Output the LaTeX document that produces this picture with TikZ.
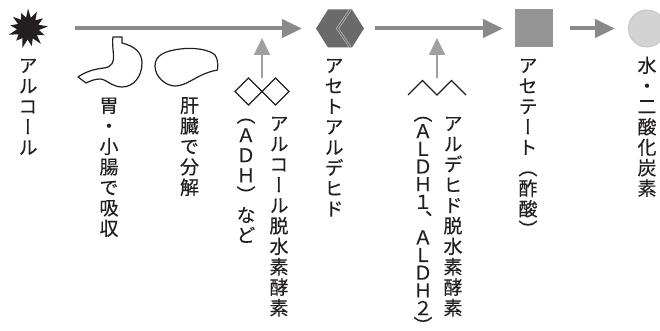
\documentclass[tikz,border=0pt]{standalone}
\usepackage{fontspec}
\newfontfamily\jp[RawFeature=+vert, FakeBold=0.3]{Noto Sans CJK JP}
\usetikzlibrary{arrows.meta}

\definecolor{flowgray}{HTML}{8A8A8A}
\definecolor{enzgray}{HTML}{A0A0A0}
\definecolor{hexgray}{HTML}{6A6A6A}
\definecolor{hexline}{HTML}{C8C8C8}
\definecolor{sqgray}{HTML}{959595}
\definecolor{circfill}{HTML}{D3D3D3}
\definecolor{circline}{HTML}{BFBFBF}
\definecolor{inkblack}{HTML}{231F20}

% vertical (tategaki) stack: one character per cell of the given pitch
\newdimen\tatepitch
\newcommand\tate[2]{\tatepitch=#1pt\relax\vbox{\offinterlineskip\tatego#2\relax}}
\def\tatego#1{\ifx\relax#1\else\tatecell{#1}\expandafter\tatego\fi}
\def\tatecell#1{\hbox to 1em{\hss\vbox to\tatepitch{\vss\hbox{\vrule height .88em depth .12em width 0pt #1}\vss}\hss}}

\begin{document}
\begin{tikzpicture}[x=1pt,y=-1pt,
  flow/.style={draw=flowgray, line width=4pt, -{Triangle[length=20pt,width=18pt]}},
  enzarrow/.style={draw=enzgray, line width=1.8pt, -{Triangle[length=17pt,width=16pt]}},
  outline/.style={draw=inkblack, line width=1.2pt, line join=round},
  anchorbox/.style={inner sep=0pt, outer sep=0pt},
  hexmark/.style={draw=hexline, line width=0.6pt, double=hexgray, double distance=1.2pt, line join=miter},
  tatelabel/.style={inner sep=0pt, outer sep=0pt, anchor=north,
    font=\jp\fontsize{19}{20}\selectfont, text=inkblack},
]
\useasboundingbox (0,0) rectangle (660,331);
\clip (0,0) rectangle (660,331);

% ---- substance symbols (invisible anchor nodes + drawn shapes)
\node[anchorbox, circle, minimum size=40pt] (alc) at (28,28.5) {};
\begin{scope}[shift={(28,28.5)}]
  \fill[inkblack] (-90:20) -- (-75:11) -- (-62:19) -- (-48:11) -- (-34:18)
    -- (-20:11) -- (-6:20) -- (8:11) -- (22:18) -- (36:11) -- (50:20)
    -- (64:11) -- (78:18) -- (92:11) -- (106:20) -- (120:11) -- (134:17)
    -- (148:11) -- (162:20) -- (176:11) -- (190:18) -- (204:11) -- (218:19)
    -- (232:11) -- (246:17) -- (260:11) -- cycle;
\end{scope}

\node[anchorbox, minimum width=48pt, minimum height=38pt] (acet) at (340,28.5) {};
\fill[hexgray] (316,28.5) -- (328,9.5) -- (352,9.5) -- (364,28.5) -- (352,47.5) -- (328,47.5) -- cycle;
\draw[hexmark] (332,10.2) -- (332,46.8);
\draw[hexmark] (350,10.2) -- (337.5,28.5) -- (350,46.8);

\node[anchorbox, minimum size=38pt, fill=sqgray] (acetate) at (534,28.5) {};

\node[anchorbox, circle, minimum size=37pt, fill=circfill, draw=circline, line width=0.8pt] (final) at (647,28.5) {};

% ---- main flow arrows
\draw[flow, shorten <=27pt, shorten >=14pt] (alc) -- (acet);
\draw[flow, shorten <=11pt, shorten >=12pt] (acet) -- (acetate);
\draw[flow, shorten <=17pt, shorten >=13.5pt] (acetate) -- (final);

% ---- stomach
\draw[outline]
  (113,37) -- (122,37) -- (122,43)
  .. controls (134,46) and (142,52) .. (142,63)
  .. controls (142,76) and (134,87) .. (122,87)
  .. controls (112,87) and (106,79) .. (100,79)
  .. controls (95,79) and (90,81) .. (86,83)
  -- (78,77)
  .. controls (85,72) and (94,69) .. (104,68)
  .. controls (112,67) and (114,62) .. (113.5,55)
  .. controls (113,48) and (112,42) .. (113,37) -- cycle;

% ---- liver
\draw[outline]
  (155,66) .. controls (155,55) and (165,51) .. (180,49)
  .. controls (195,47) and (210,50) .. (215,55)
  .. controls (218,59) and (218,65) .. (217.5,70)
  .. controls (212,71) and (205,73) .. (198,77)
  .. controls (190,81) and (183,86) .. (175,86)
  .. controls (166,86) and (155,77) .. (155,66) -- cycle;

% ---- enzyme symbols
\node[anchorbox, minimum width=55pt, minimum height=27pt] (adh) at (262,91.5) {};
\draw[outline, line join=miter] (235,91.5) -- (248.5,78) -- (262,91.5) -- (248.5,105) -- cycle;
\draw[outline, line join=miter] (262,91.5) -- (275.5,78) -- (289,91.5) -- (275.5,105) -- cycle;
\coordinate (adhtip) at (262,38);
\draw[enzarrow] (adh.north) -- (adhtip);

\node[anchorbox, minimum width=58pt, minimum height=17pt] (aldh) at (437,86.5) {};
\draw[outline, line join=miter] (408,95) -- (422.5,80.5) -- (437,95) -- (451.5,80.5) -- (466,95);
\coordinate (aldhtip) at (437,38);
\draw[enzarrow] (aldh.north) -- (aldhtip);

% ---- vertical labels
\node[tatelabel] (t-alc) at (28,55) {\tate{20.5}{アルコール}};
\node[tatelabel] (t-stomach) at (109,95) {\tate{20.5}{胃・小腸で吸収}};
\node[tatelabel] (t-liver) at (189.5,95) {\tate{20.5}{肝臓で分解}};
\node[tatelabel] (t-adhabbr) at (246,105) {\tate{20}{（ＡＤＨ）など}};
\node[tatelabel] (t-adh) at (279,113) {\tate{20.5}{アルコール脱水素酵素}};
\node[tatelabel] (t-acet) at (334,55) {\tate{20.5}{アセトアルデヒド}};
\node[tatelabel] (t-aldhabbr) at (423,104.3) {\tate{17.7}{（ＡＬＤＨ１、ＡＬＤＨ２）}};
\node[tatelabel] (t-aldh) at (453,113) {\tate{20.5}{アルデヒド脱水素酵素}};
\node[tatelabel] (t-acetate) at (528,55) {\tate{20.5}{アセテート（酢酸）}};
\node[tatelabel] (t-final) at (647,55) {\tate{20.5}{水・二酸化炭素}};
\end{tikzpicture}
\end{document}
